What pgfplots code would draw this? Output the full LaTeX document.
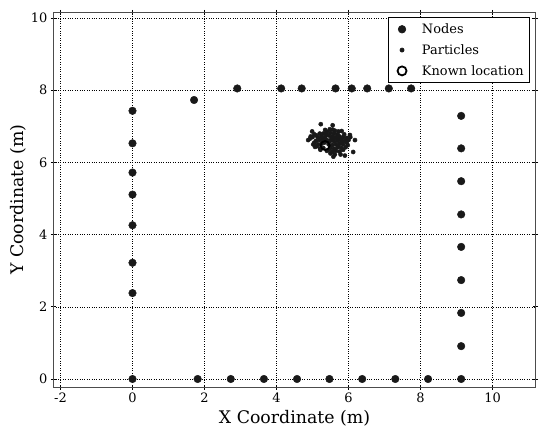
\documentclass[border=0pt]{standalone}
\usepackage{fontspec}
\setmainfont{DejaVu Serif}
\usepackage{pgfplots}
\pgfplotsset{compat=1.18}
\begin{document}
\begin{tikzpicture}
\path[use as bounding box] (-53.3bp,-40.7bp) rectangle (485.7bp,387.3bp);
\begin{axis}[
  at={(0,0)}, anchor=south west,
  scale only axis, width=482.4bp, height=375bp,
  xmin=-2.2, xmax=11.2, ymin=-0.23, ymax=10.16,
  xtick={-2,0,2,4,6,8,10}, ytick={0,2,4,6,8,10},
  /pgf/number format/assume math mode=true,
  tick label style={font=\fontsize{13}{15}\selectfont},
  xlabel={X Coordinate (m)}, ylabel={Y Coordinate (m)},
  label style={font=\fontsize{17.4}{20}\selectfont},
  xlabel style={yshift=0bp},
  ylabel style={yshift=-2bp},
  grid=major, major grid style={black, dotted, line width=0.6pt},
  axis line style={gray!60!black, line width=1.3pt},
  tick style={black, line width=0.8pt},
  tick align=center, major tick length=5bp,
  legend style={at={(1,1)}, xshift=-5.7bp, yshift=-5bp, anchor=north east, draw=black, line width=0.6pt,
    font=\fontsize{13}{15}\selectfont, row sep=5.5bp, inner xsep=4bp, inner ysep=4bp,
    cells={anchor=west}, /tikz/every odd column/.append style={column sep=8bp}},
  legend cell align=left,
  legend image code/.code={\path[draw=none,fill=none] (0cm,0cm) -- (0.7cm,0cm);\draw[#1] plot coordinates {(0.35cm,0cm)};},
]
\addplot[only marks, mark=*, mark size=3.8bp, mark options={fill=black!90, draw=black!90}] coordinates {
(0,0) (1.81,0) (2.73,0) (3.65,0) (4.57,0) (5.47,0) (6.38,0) (7.30,0) (8.21,0) (9.13,0)
(9.13,0.91) (9.13,1.83) (9.13,2.74) (9.13,3.66) (9.13,4.56) (9.13,5.48) (9.13,6.39) (9.13,7.29)
(0,2.38) (0,3.22) (0,4.26) (0,5.11) (0,5.72) (0,6.53) (0,7.43)
(1.71,7.73) (2.91,8.05) (4.13,8.05) (4.70,8.05) (5.64,8.05) (6.09,8.05) (6.52,8.05) (7.12,8.05) (7.74,8.05)
};
\addlegendentry{Nodes}
\addplot[only marks, mark=*, mark size=2.1bp, mark options={fill=black!90, draw=black!90}] coordinates {
(5.30,6.80) (5.40,6.85) (5.50,6.82) (5.60,6.80) (5.70,6.78) (5.45,6.75) (5.55,6.72) (5.65,6.70)
(5.75,6.72) (5.85,6.70) (5.35,6.70) (5.25,6.72) (5.15,6.70) (5.20,6.62) (5.30,6.60) (5.40,6.62)
(5.50,6.60) (5.60,6.58) (5.70,6.60) (5.80,6.62) (5.90,6.60) (5.95,6.68) (5.10,6.60) (5.05,6.55)
(5.15,6.50) (5.25,6.52) (5.45,6.50) (5.55,6.48) (5.65,6.50) (5.75,6.52) (5.85,6.50) (5.95,6.55)
(6.00,6.62) (5.50,6.40) (5.60,6.38) (5.70,6.42) (5.80,6.40) (5.45,6.35) (5.55,6.30) (5.65,6.32)
(5.75,6.30) (5.50,6.25) (5.40,6.32) (5.62,6.22) (5.35,6.90) (5.48,6.92) (5.62,6.88) (5.72,6.86)
(5.20,6.80) (5.10,6.75) (5.00,6.70) (5.05,6.78) (4.95,6.72) (5.12,6.45) (5.02,6.50) (5.30,6.40)
(5.22,6.35) (5.88,6.78) (5.98,6.48) (6.05,6.70) (5.78,6.22) (5.85,6.35) (5.92,6.42) (5.38,6.78)
(5.58,6.65) (5.68,6.66) (5.78,6.64) (5.28,6.66) (5.42,6.58) (5.52,6.68) (5.33,6.55) (5.83,6.56)
(5.72,6.46) (5.23,7.06) (5.56,7.03) (5.56,6.91) (4.99,6.86) (4.93,6.66) (4.88,6.62) (5.07,6.43)
(5.21,6.39) (5.58,6.16) (6.13,6.29) (5.90,6.19) (6.04,6.76) (6.18,6.62) (5.81,6.87)
};
\addlegendentry{Particles}
\addplot[only marks, mark=o, mark size=4.5bp, mark options={fill=white, draw=black, line width=1.8pt}] coordinates {(5.35,6.47)};
\addlegendentry{Known location}
\end{axis}
\end{tikzpicture}
\end{document}
